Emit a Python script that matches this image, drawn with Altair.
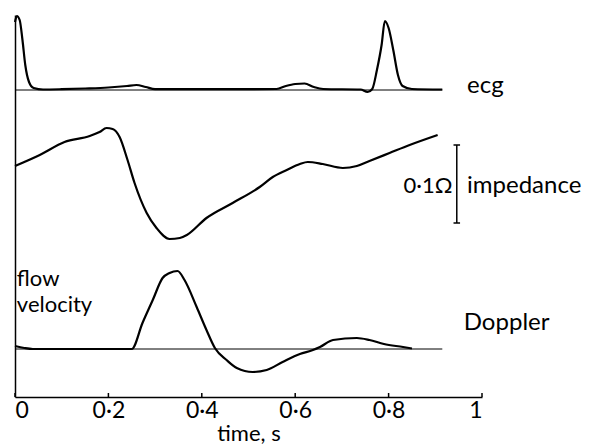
import altair as alt
import pandas as pd

# ---- data (time in s, trace heights in display units) ----
ecg_t = [0.000, 0.004, 0.010, 0.016, 0.022, 0.030, 0.040, 0.060, 0.100, 0.150, 0.200, 0.240,
         0.260, 0.280, 0.300, 0.400, 0.500, 0.560, 0.580, 0.600, 0.620, 0.640, 0.660, 0.740,
         0.755, 0.765, 0.775, 0.785, 0.792, 0.800, 0.810, 0.820, 0.830, 0.850, 0.915]
ecg_h = [68, 74, 70, 50, 25, 8, 2, 0.5, 0.8, 1.5, 2.5, 4,
         5, 3, 0.8, 0.8, 0.8, 1, 4, 6, 6.5, 3, 1, 0.5,
         -2, 1, 20, 45, 69, 62, 40, 15, 4, 1, 0.5]

imp_t = [0.000, 0.053, 0.106, 0.160, 0.181, 0.196, 0.209, 0.224, 0.241, 0.256, 0.282, 0.303,
         0.331, 0.353, 0.368, 0.410, 0.466, 0.524, 0.552, 0.582, 0.610, 0.627, 0.659, 0.702,
         0.732, 0.759, 0.802, 0.845, 0.905]
imp_h = [231, 242, 255, 261, 265, 269, 268, 260, 237, 214, 184, 169,
         158, 159, 162, 179, 194, 210, 220, 227, 233, 235, 233, 229,
         231, 236, 244, 252, 262]

dop_t = [0.000, 0.020, 0.038, 0.250, 0.273, 0.295, 0.316, 0.331, 0.348, 0.363, 0.389, 0.410,
         0.428, 0.453, 0.475, 0.509, 0.539, 0.573, 0.610, 0.638, 0.653, 0.681, 0.732, 0.759,
         0.790, 0.831, 0.850]
dop_h = [3, 1, 0, 0, 26, 49, 71, 76, 78, 69, 42, 19,
         1, -11, -19, -23, -21, -13, -5, -1, 2, 9, 11, 9,
         5, 2, 0.5]

ECG_BASE = 307
DOP_BASE = 48
trace_end = 0.915

tick_values = [0, 0.2, 0.4, 0.6, 0.8, 1]
tick_labels = ["0", "0·2", "0·4", "0·6", "0·8", "1"]

scale_bar_t = 0.946
scale_bar_lo = 174
scale_bar_hi = 252
scale_bar_label = "0·1Ω"

FONT = "Lato"

# ---- tables ----
ecg = pd.DataFrame({"t": ecg_t, "v": [ECG_BASE + h for h in ecg_h], "s": "ecg"})
imp = pd.DataFrame({"t": imp_t, "v": imp_h, "s": "impedance"})
dop = pd.DataFrame({"t": dop_t, "v": [DOP_BASE + h for h in dop_h], "s": "doppler"})
traces = pd.concat([ecg, imp, dop], ignore_index=True)

baselines = pd.DataFrame({"t": [0, 0], "t2": [trace_end, trace_end], "v": [ECG_BASE, DOP_BASE]})
ticks = pd.DataFrame({"t": tick_values, "v": [0] * len(tick_values), "v2": [4] * len(tick_values)})
bar = pd.DataFrame({"t": [scale_bar_t], "v": [scale_bar_lo], "v2": [scale_bar_hi]})
caps = pd.DataFrame({"t": [scale_bar_t - 0.007] * 2, "t2": [scale_bar_t + 0.007] * 2,
                     "v": [scale_bar_lo, scale_bar_hi]})

label_expr = " : ".join(
    [f"datum.value == {v} ? '{l}'" for v, l in zip(tick_values, tick_labels)] + ["''"]
)

x = alt.X("t:Q", scale=alt.Scale(domain=[0, 1], nice=False),
          axis=alt.Axis(values=tick_values, labelExpr=label_expr, title="time, s",
                        grid=False, ticks=False, domainColor="black", domainWidth=1.5,
                        labelFont=FONT, labelFontSize=23, labelColor="black", labelPadding=2,
                        titleFont=FONT, titleFontSize=22, titleFontWeight="normal",
                        titleColor="black", titlePadding=1))
y = alt.Y("v:Q", scale=alt.Scale(domain=[0, 382], nice=False),
          axis=alt.Axis(title=None, labels=False, ticks=False, grid=False,
                        domainColor="black", domainWidth=1.5))

lines = alt.Chart(traces).mark_line(color="black", strokeWidth=2.2, interpolate="monotone").encode(
    x=x, y=y, detail="s:N")

base_rules = alt.Chart(baselines).mark_rule(color="black", strokeWidth=1).encode(
    x="t:Q", x2="t2:Q", y="v:Q")

tick_rules = alt.Chart(ticks).mark_rule(color="black", strokeWidth=1.5).encode(
    x="t:Q", y="v:Q", y2="v2:Q")

bar_rule = alt.Chart(bar).mark_rule(color="black", strokeWidth=1.5).encode(
    x="t:Q", y="v:Q", y2="v2:Q")
cap_rules = alt.Chart(caps).mark_rule(color="black", strokeWidth=1.5).encode(
    x="t:Q", x2="t2:Q", y="v:Q")

def label(df, align, size):
    return alt.Chart(df).mark_text(font=FONT, fontSize=size, color="black", align=align,
                                   baseline="alphabetic").encode(x="t:Q", y="v:Q", text="text:N")

side_labels = pd.DataFrame({"t": [0.968, 0.968, 0.961],
                            "v": [304, 204, 67],
                            "text": ["ecg", "impedance", "Doppler"]})
flow_labels = pd.DataFrame({"t": [0.004, 0.004], "v": [111, 85],
                            "text": ["flow", "velocity"]})
right_labels = pd.DataFrame({"t": [0.937], "v": [204], "text": [scale_bar_label]})

chart = alt.layer(
    lines, base_rules, tick_rules, bar_rule, cap_rules,
    label(side_labels, "left", 24), label(flow_labels, "left", 22),
    label(right_labels, "right", 22),
).properties(
    width=467, height=382,
    autosize=alt.AutoSizeParams(type="none"),
    padding={"left": 15, "top": 15, "right": 107, "bottom": 51},
    background="white",
).configure_view(stroke=None)

chart.save("out.html", embed_options={"renderer": "svg", "actions": False})
